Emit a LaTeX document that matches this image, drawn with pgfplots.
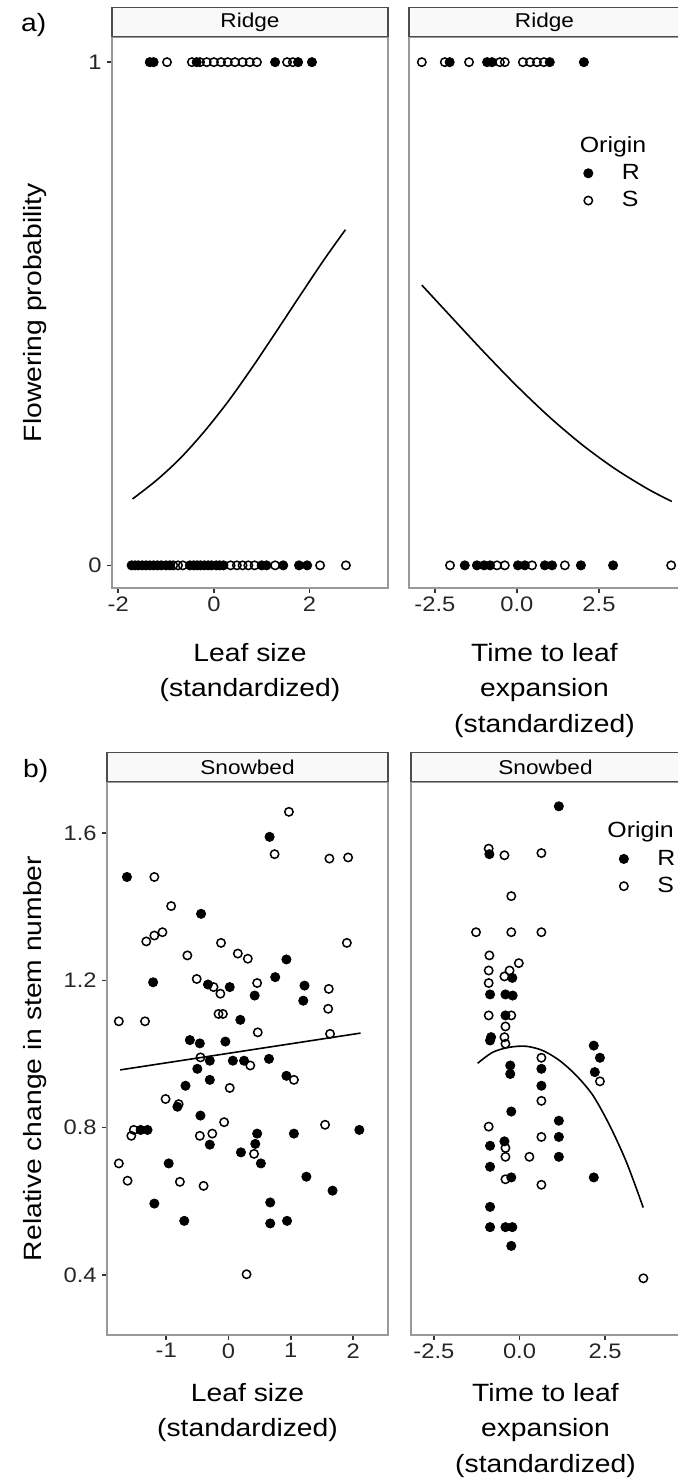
\documentclass[border=0pt]{standalone}
\usepackage{pgfplots}
\pgfplotsset{compat=1.18}
\usepackage{fontspec}
\setmainfont{Liberation Sans}[FakeStretch=1.13]

\tikzset{
  strip/.style={draw=black!70, fill=gray!5, line width=0.6pt, minimum height=14.5pt, inner sep=0pt, anchor=south, font=\fontsize{10}{12}\selectfont},
}
\pgfplotsset{
  facet/.style={
    scale only axis,
    anchor=south west,
    axis line style={black!40, line width=0.75pt},
    tick align=outside,
    major tick length=2.5pt,
    every tick/.style={black!80, line width=0.75pt},
    xtick pos=bottom, ytick pos=left,
    tick label style={font=\fontsize{10.5}{12}\selectfont, text=black!85},
    xticklabel style={inner sep=1.5pt},
    yticklabel style={inner sep=1.5pt, xshift=-1pt},
    label style={font=\fontsize{12.5}{17.75}\selectfont},
    xlabel style={align=center},
    legend style={draw=none, fill=none, font=\fontsize{11}{12.5}\selectfont, row sep=0.5pt, column sep=12.5pt, anchor=north west},
    legend cell align=left,
  },
  Rpts/.style={only marks, mark=*, mark size=2.3pt, mark options={fill=black, draw=black}},
  Spts/.style={only marks, mark=o, mark size=2.1pt, mark options={draw=black, line width=0.75pt}},
  fitline/.style={no marks, black, line width=0.8pt, smooth, forget plot},
}

\begin{document}
\begin{tikzpicture}
\useasboundingbox (0pt,0pt) rectangle (339pt,739.5pt);

\node[anchor=base west, font=\fontsize{12.5}{14}\selectfont] at (7pt,723.5pt) {a)};
\node[anchor=base west, font=\fontsize{12.5}{14}\selectfont] at (8pt,350.5pt) {b)};

% ---------------- a) left: Ridge, leaf size
\begin{axis}[facet, at={(56pt,445.5pt)}, width=138pt, height=275.5pt,
  xmin=-2.13, xmax=3.64, ymin=-0.045, ymax=1.05,
  xtick={-2,0,2}, xticklabels={-2,0,2},
  ytick={0,1}, yticklabels={0,1},
  xlabel={Leaf size\\(standardized)},
  xlabel style={yshift=-11pt},
  ylabel={Flowering probability},
  ylabel style={at={(axis description cs:-0.279,0.5)}, anchor=center},
  after end axis/.code={\node[strip, minimum width=138pt] at (rel axis cs:0.5,1) {Ridge};}]
\addplot[fitline] coordinates {(-1.7,0.132) (-1.2,0.169) (-0.7,0.213) (-0.2,0.266) (0.3,0.326) (0.8,0.393) (1.3,0.464) (1.8,0.536) (2.3,0.607) (2.75,0.667)};
\addplot[Rpts] coordinates {
(-1.34,1) (-1.26,1) (-0.36,1) (1.28,1) (1.76,1) (2.05,1)
(-1.72,0) (-1.65,0) (-1.58,0) (-1.5,0) (-1.42,0) (-1.26,0) (-1.18,0) (-1.1,0) (-1.0,0) (-0.92,0)
(-0.5,0) (-0.42,0) (-0.35,0) (-0.28,0) (-0.2,0) (-0.12,0) (-0.05,0) (0.05,0) (0.12,0) (0.2,0)
(1.0,0) (1.1,0) (1.45,0) (1.78,0) (1.95,0)};
\addplot[Spts] coordinates {
(-0.98,1) (-0.46,1) (-0.29,1) (-0.15,1) (0,1) (0.15,1) (0.29,1) (0.44,1) (0.6,1) (0.75,1) (0.9,1) (1.53,1) (1.65,1)
(-1.34,0) (-0.85,0) (-0.75,0) (-0.65,0) (0.35,0) (0.48,0) (0.6,0) (0.72,0) (0.85,0) (1.28,0) (2.22,0) (2.76,0)};
\end{axis}

% ---------------- a) right: Ridge, time to leaf expansion
\begin{axis}[facet, at={(204.5pt,445.5pt)}, width=135.5pt, height=275.5pt,
  xmin=-3.29, xmax=4.97, ymin=-0.045, ymax=1.05,
  xtick={-2.5,0,2.5}, xticklabels={-2.5,0.0,2.5},
  ytick=\empty,
  xlabel={Time to leaf\\expansion\\(standardized)},
  xlabel style={yshift=-11pt},
  legend style={at={(0.575,0.835)}},
  after end axis/.code={\node[strip, minimum width=135.5pt] at (rel axis cs:0.5,1) {Ridge};}]
\addlegendimage{empty legend}\addlegendentry{\hspace*{-21pt}Origin}
\addplot[fitline] coordinates {(-2.9,0.557) (-2,0.4935) (-1,0.4234) (0,0.3562) (1,0.2942) (2,0.2390) (3,0.1914) (4,0.1513) (4.72,0.1270)};
\addplot[Rpts] coordinates {
(-2.05,1) (-0.91,1) (-0.76,1) (1.0,1) (2.04,1)
(-1.59,0) (-1.22,0) (-1.0,0) (-0.82,0) (0.03,0) (0.24,0) (0.85,0) (1.07,0) (1.95,0) (2.93,0)};
\addlegendentry{R}
\addplot[Spts] coordinates {
(-2.9,1) (-2.2,1) (-1.46,1) (-0.52,1) (-0.37,1) (0.18,1) (0.4,1) (0.61,1) (0.82,1)
(-2.04,0) (-0.61,0) (-0.37,0) (0.46,0) (1.46,0) (4.7,0)};
\addlegendentry{S}
\end{axis}

% ---------------- b) left: Snowbed, leaf size
\begin{axis}[facet, at={(53.5pt,72pt)}, width=140.5pt, height=276.5pt,
  xmin=-1.95, xmax=2.56, ymin=0.237, ymax=1.739,
  xtick={-1,0,1,2}, xticklabels={-1,0,1,2},
  ytick={0.4,0.8,1.2,1.6}, yticklabels={0.4,0.8,1.2,1.6},
  xlabel={Leaf size\\(standardized)},
  xlabel style={yshift=-7.5pt},
  ylabel={Relative change in stem number},
  ylabel style={at={(axis description cs:-0.256,0.5)}, anchor=center},
  after end axis/.code={\node[strip, minimum width=140.5pt] at (rel axis cs:0.5,1) {Snowbed};}]
\addplot[fitline] coordinates {(-1.74,0.957) (2.12,1.057)};
\addplot[Rpts] coordinates {
(-1.63,1.481) (0.66,1.590) (-0.44,1.381) (0.93,1.257) (-1.21,1.195) (-0.33,1.189) (0.02,1.182)
(0.75,1.209) (1.22,1.186) (0.42,1.159) (1.20,1.145) (0.19,1.093) (-0.62,1.038) (-0.46,1.029)
(-0.05,1.034) (-0.30,0.982) (0.07,0.982) (0.25,0.982) (0.65,0.987) (-0.50,0.960) (-0.30,0.930)
(0.93,0.941) (-0.69,0.914) (-0.82,0.857) (-0.45,0.833) (-1.41,0.794) (-1.30,0.794) (-0.30,0.754)
(0.46,0.784) (0.43,0.756) (0.20,0.733) (0.52,0.703) (1.05,0.784) (2.10,0.794) (-0.96,0.703)
(1.25,0.667) (1.67,0.629) (-1.19,0.594) (0.67,0.597) (-0.71,0.547) (0.67,0.540) (0.94,0.547)};
\addplot[Spts] coordinates {
(-1.19,1.481) (0.97,1.658) (0.74,1.543) (1.62,1.531) (1.92,1.534) (-0.92,1.402) (-1.32,1.306)
(-1.19,1.322) (-1.06,1.331) (-0.12,1.302) (1.90,1.302) (-0.66,1.268) (0.15,1.273) (0.31,1.259)
(-0.51,1.204) (-0.24,1.182) (0.46,1.193) (1.61,1.177) (-0.13,1.164) (1.60,1.123) (-1.76,1.089)
(-1.34,1.089) (-0.16,1.109) (-0.09,1.109) (0.47,1.059) (1.63,1.055) (-0.45,0.991) (0.35,0.969)
(1.05,0.930) (0.02,0.908) (-1.01,0.878) (-0.80,0.864) (-0.07,0.815) (-1.52,0.794) (-1.56,0.778)
(-0.46,0.778) (-0.26,0.784) (0.41,0.729) (1.55,0.808) (-1.76,0.703) (-1.62,0.656) (-0.78,0.653)
(-0.40,0.642) (0.29,0.402)};
\end{axis}

% ---------------- b) right: Snowbed, time to leaf expansion
\begin{axis}[facet, at={(205.5pt,72pt)}, width=134.5pt, height=276.5pt,
  xmin=-3.17, xmax=4.69, ymin=0.237, ymax=1.739,
  xtick={-2.5,0,2.5}, xticklabels={-2.5,0.0,2.5},
  ytick=\empty,
  xlabel={Time to leaf\\expansion\\(standardized)},
  xlabel style={yshift=-7.5pt},
  legend style={at={(0.704,0.943)}},
  after end axis/.code={\node[strip, minimum width=134.5pt] at (rel axis cs:0.5,1) {Snowbed};}]
\addlegendimage{empty legend}\addlegendentry{\hspace*{-25pt}Origin}
\addplot[fitline] coordinates {(-1.223,0.975) (-0.783,1.005) (-0.293,1.0185) (0.196,1.0212) (0.683,1.0095) (1.173,0.9823) (1.663,0.9415) (2.150,0.8871) (2.639,0.8054) (3.129,0.7056) (3.616,0.5831)};
\addplot[Rpts] coordinates {
(1.15,1.673) (-0.88,1.543) (-0.21,1.207) (-0.86,1.162) (-0.41,1.162) (-0.20,1.159) (-0.41,1.105)
(-0.83,1.046) (-0.86,1.037) (2.17,1.023) (2.35,0.990) (2.20,0.951) (0.64,0.960) (-0.27,0.969)
(-0.27,0.946) (0.64,0.914) (-0.24,0.844) (1.15,0.819) (1.15,0.775) (-0.44,0.763) (-0.86,0.751)
(1.15,0.721) (-0.86,0.694) (-0.24,0.665) (2.17,0.665) (-0.86,0.585) (-0.86,0.530) (-0.41,0.530)
(-0.21,0.530) (-0.24,0.479)};
\addlegendentry{R}
\addplot[Spts] coordinates {
(-0.90,1.558) (-0.44,1.540) (0.64,1.546) (-0.24,1.429) (-1.27,1.331) (-0.24,1.331) (0.64,1.331)
(-0.88,1.268) (-0.90,1.227) (-0.02,1.247) (-0.29,1.227) (-0.44,1.211) (-0.90,1.193) (-0.90,1.105)
(-0.24,1.105) (-0.41,1.075) (-0.44,1.046) (-0.41,1.028) (2.35,0.926) (0.64,0.990) (0.64,0.873)
(-0.90,0.803) (0.64,0.775) (-0.41,0.745) (-0.41,0.721) (0.29,0.721) (-0.41,0.660) (0.64,0.645)
(3.62,0.391)};
\addlegendentry{S}
\end{axis}
\end{tikzpicture}
\end{document}
